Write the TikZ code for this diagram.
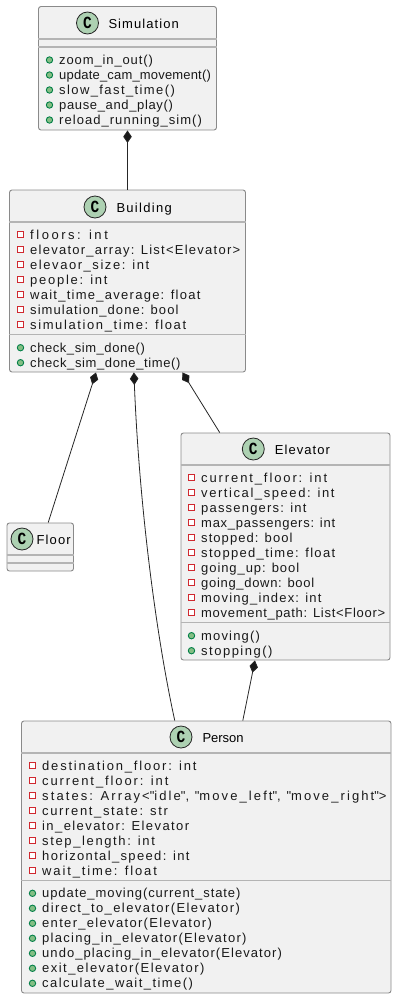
\documentclass[tikz,border=0pt]{standalone}
\usepackage{fontspec}
\setmainfont{Liberation Sans}
\newfontfamily\glyphfont{Liberation Mono}
\usetikzlibrary{arrows.meta}
\definecolor{boxfill}{HTML}{F1F1F1}
\definecolor{boxline}{HTML}{8A8A8A}
\definecolor{sepline}{HTML}{B4B4B4}
\definecolor{spotfill}{HTML}{ADD1B2}
\definecolor{fieldred}{HTML}{D0282F}
\definecolor{methodfill}{HTML}{84BE84}
\definecolor{methodline}{HTML}{038048}
% sets a row of text to the width it has in the picture
\newcommand{\fitrow}[2]{%
  \setbox0=\hbox{\addfontfeature{LetterSpace=0}#2}\edef\widthplain{\the\wd0}%
  \setbox0=\hbox{\addfontfeature{LetterSpace=10}#2}\edef\widthwide{\the\wd0}%
  \pgfmathsetmacro\tracking{10*(#1-\widthplain)/(\widthwide-\widthplain)}%
  \addfontfeature{LetterSpace=\tracking}#2}
\newcommand{\spotletter}{\scalebox{0.85}[1]{C}}
\tikzset{
  classbox/.style={draw=boxline,fill=boxfill,line width=0.9pt,rounded corners=2.5pt,inner sep=0pt},
  divider/.style={draw=sepline,line width=1.3pt},
  spot/.style={circle,draw=black!85,fill=spotfill,line width=0.8pt,minimum size=22pt,inner sep=0pt,font=\glyphfont\bfseries\fontsize{17}{17}\selectfont},
  classname/.style={anchor=base west,inner sep=0pt,font=\fontsize{13}{15}\selectfont},
  rowtext/.style={anchor=base west,inner sep=0pt,font=\fontsize{13}{15}\selectfont,text=black!90},
  fieldmark/.style={rectangle,draw=fieldred,fill=white,line width=1pt,minimum size=6.4pt,inner sep=0pt},
  methodmark/.style={circle,draw=methodline,fill=methodfill,line width=0.9pt,minimum size=6.4pt,inner sep=0pt},
  owns/.style={line width=0.8pt,draw=black!85,{Diamond[length=12.5pt,width=8.5pt,fill=black!90]}-},
}
\begin{document}
\begin{tikzpicture}[x=1pt,y=-1pt]
\useasboundingbox (0,0) rectangle (400,1001);
% class boxes
\node[classbox,minimum width=178pt,minimum height=123.5pt] (sim) at (127.5,68.25) {};
\node[classbox,minimum width=236pt,minimum height=182pt] (bldg) at (127.5,281) {};
\node[classbox,minimum width=209pt,minimum height=227pt] (elev) at (285.5,546.5) {};
\node[classbox,minimum width=66.5pt,minimum height=48pt] (floor) at (40.25,547) {};
\node[classbox,minimum width=369.5pt,minimum height=272pt] (person) at (206.25,857) {};
% dividers
\draw[divider] (sim.west |- 0,39) -- (sim.east |- 0,39);
\draw[divider] (sim.west |- 0,47) -- (sim.east |- 0,47);
\draw[divider] (bldg.west |- 0,222) -- (bldg.east |- 0,222);
\draw[divider] (bldg.west |- 0,334.5) -- (bldg.east |- 0,334.5);
\draw[divider] (elev.west |- 0,465) -- (elev.east |- 0,465);
\draw[divider] (elev.west |- 0,622.5) -- (elev.east |- 0,622.5);
\draw[divider] (floor.west |- 0,555) -- (floor.east |- 0,555);
\draw[divider] (floor.west |- 0,563) -- (floor.east |- 0,563);
\draw[divider] (person.west |- 0,753) -- (person.east |- 0,753);
\draw[divider] (person.west |- 0,880.5) -- (person.east |- 0,880.5);
% class titles
\node[spot] (simspot) at (87.5,23) {\spotletter};
\node[classname] (simname) at (108.3,28) {\fitrow{70.3}{Simulation}};
\node[spot] (bldgspot) at (95,207) {\spotletter};
\node[classname] (bldgname) at (116.3,212) {\fitrow{55.3}{Building}};
\node[spot] (elevspot) at (253.3,449) {\spotletter};
\node[classname] (elevname) at (274.7,454) {\fitrow{55}{Elevator}};
\node[spot] (floorspot) at (22,539) {\spotletter};
\node[classname] (floorname) at (36.3,544) {\fitrow{34.3}{Floor}};
\node[spot] (personspot) at (181,737) {\spotletter};
\node[classname] (personname) at (202.3,742) {\fitrow{41}{Person}};
% Simulation
\foreach \len/\txt [count=\i from 0] in {93.7/zoom\_in\_out(),151.7/update\_cam\_movement(),115.7/slow\_fast\_time(),113.7/pause\_and\_play(),142.7/reload\_running\_sim()}{
  \node[methodmark] (simdot\i) at (49.5,{60+15*\i}) {};
  \node[rowtext] (simmethod\i) at (59,{64.5+15*\i}) {\fitrow{\len}{\txt}};
}
% Building
\foreach \len/\txt [count=\i from 0] in {77.7/floors: int,210/elevator\_array: List<Elevator>,119/elevaor\_size: int,77.3/people: int,170.3/wait\_time\_average: float,148.3/simulation\_done: bool,156/simulation\_time: float}{
  \node[fieldmark] (bldgbox\i) at (20.5,{234.5+15*\i}) {};
  \node[rowtext] (bldgfield\i) at (30,{239+15*\i}) {\fitrow{\len}{\txt}};
}
\foreach \len/\txt [count=\i from 0] in {114.7/check\_sim\_done(),150.3/check\_sim\_done\_time()}{
  \node[methodmark] (bldgdot\i) at (20.5,{347.7+15*\i}) {};
  \node[rowtext] (bldgmethod\i) at (30,{352.2+15*\i}) {\fitrow{\len}{\txt}};
}
% Elevator
\foreach \len/\txt [count=\i from 0] in {126/current\_floor: int,133.3/vertical\_speed: int,105.3/passengers: int,134/max\_passengers: int,91.3/stopped: bool,134/stopped\_time: float,98/going\_up: bool,113/going\_down: bool,120.3/moving\_index: int,184/movement\_path: List<Floor>}{
  \node[fieldmark] (elevbox\i) at (191.5,{477.5+15*\i}) {};
  \node[rowtext] (elevfield\i) at (201,{482+15*\i}) {\fitrow{\len}{\txt}};
}
\foreach \len/\txt [count=\i from 0] in {58.7/moving(),71.3/stopping()}{
  \node[methodmark] (elevdot\i) at (191.5,{635.7+15*\i}) {};
  \node[rowtext] (elevmethod\i) at (201,{640.2+15*\i}) {\fitrow{\len}{\txt}};
}
% Person
\foreach \len/\txt [count=\i from 0] in {154.3/destination\_floor: int,126.3/current\_floor: int,344.3/{states: Array<\textquotedbl idle\textquotedbl, \textquotedbl move\_left\textquotedbl, \textquotedbl move\_right\textquotedbl>},125.7/current\_state: str,147/in\_elevator: Elevator,112.7/step\_length: int,147.3/horizontal\_speed: int,114.7/wait\_time: float}{
  \node[fieldmark] (personbox\i) at (32.5,{765.7+15*\i}) {};
  \node[rowtext] (personfield\i) at (42,{770.2+15*\i}) {\fitrow{\len}{\txt}};
}
\foreach \len/\txt [count=\i from 0] in {198.3/update\_moving(current\_state),197.7/direct\_to\_elevator(Elevator),169.7/enter\_elevator(Elevator),204.3/placing\_in\_elevator(Elevator),239.7/undo\_placing\_in\_elevator(Elevator),162.3/exit\_elevator(Elevator),150.7/calculate\_wait\_time()}{
  \node[methodmark] (persondot\i) at (32.5,{893.3+15*\i}) {};
  \node[rowtext] (personmethod\i) at (42,{897.8+15*\i}) {\fitrow{\len}{\txt}};
}
% composition links
\draw[owns] (sim.south) -- (bldg.north);
\draw[owns] (bldg.251.9) -- (floor.72.1);
\draw[owns] (bldg.-86.5) .. controls (139,500) and (155,630) .. (person.103.2);
\draw[owns] (bldg.-59.3) -- (elev.120.8);
\draw[owns] (elev.255.4) -- (person.75.6);
\end{tikzpicture}
\end{document}
